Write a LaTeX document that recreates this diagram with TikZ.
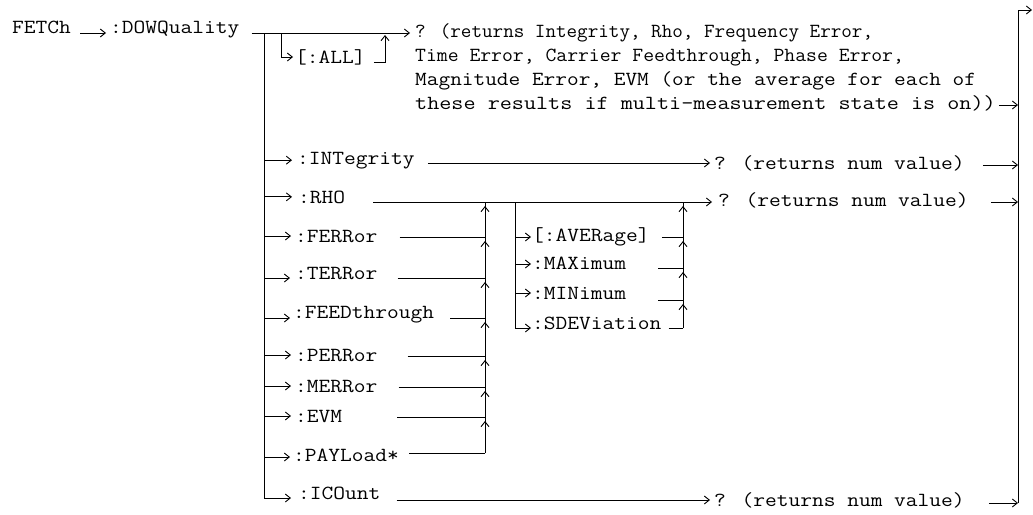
\documentclass[tikz,border=0pt]{standalone}
\usepackage{fontspec}
\newfontfamily\diagfont[FakeStretch=1.14]{Latin Modern Mono}
\usetikzlibrary{arrows.meta,calc}
\begin{document}
\begin{tikzpicture}[x=1pt,y=-1pt,
  lbl/.style={anchor=base west,inner sep=0pt,font=\diagfont\fontsize{20}{24}\selectfont},
  ln/.style={line width=0.9pt},
  arr/.style={ln,-{Straight Barb[length=5pt,width=8pt]}}]
\fill[white] (0,0) rectangle (1033,514);
\useasboundingbox (0,0) rectangle (1033,514);
% labels
\node[lbl] (fetch) at (12,33) {FETCh};
\node[lbl] (dow) at (110,33) {:DOWQuality};
\node[lbl] (all) at (295,63) {[:ALL]};
\node[lbl] (r1) at (415,37) {\scalebox{0.90}[1]{? (returns Integrity, Rho, Frequency Error,}};
\node[lbl] (r2) at (415,61) {\scalebox{0.925}[1]{Time Error, Carrier Feedthrough, Phase Error,}};
\node[lbl] (r3) at (415,85) {\scalebox{0.995}[1]{Magnitude Error, EVM (or the average for each of}};
\node[lbl] (r4) at (415,109) {\scalebox{1.03}[1]{these results if multi-measurement state is on))}};
\node[lbl] (int) at (297,164) {:INTegrity};
\node[lbl] (intr) at (714,169) {? (returns num value)};
\node[lbl] (rho) at (298,203) {:RHO};
\node[lbl] (rhor) at (718,206) {? (returns num value)};
\node[lbl] (ferr) at (295,242) {:FERRor};
\node[lbl] (terr) at (295,279) {:TERRor};
\node[lbl] (feed) at (293,318) {:FEEDthrough};
\node[lbl] (perr) at (295,361) {:PERRor};
\node[lbl] (merr) at (295,392) {:MERRor};
\node[lbl] (evm) at (295,422) {:EVM};
\node[lbl] (pay) at (293,461) {:PAYLoad*};
\node[lbl] (icnt) at (298,499) {:ICOunt};
\node[lbl] (icntr) at (714,506) {? (returns num value)};
\node[lbl] (aver) at (532,241) {[:AVERage]};
\node[lbl] (maxi) at (532,269) {:MAXimum};
\node[lbl] (mini) at (532,299) {:MINimum};
\node[lbl] (sdev) at (532,329) {:SDEViation};
% junction coordinates
\coordinate (vtop) at (264,33);
\coordinate (vbot) at (264,498);
\coordinate (atop) at (281,33);
\coordinate (aout) at (385,33);
\coordinate (c1) at (485,202);
\coordinate (c1b) at (485,453);
\coordinate (s1) at (515,202);
\coordinate (s1b) at (515,328);
\coordinate (c2) at (683,202);
\coordinate (c2b) at (683,328);
\coordinate (rtop) at (1018,10);
\coordinate (rbot) at (1018,503);
\coordinate (rend) at (1032,10);
% top line
\draw[arr] ($(fetch.base east)+(9,0)$) -- ($(dow.base west)+(-4,0)$);
\draw[arr] ($(dow.base east)+(12,0)$) -- ($(r1.base west)+(-5,-4)$);
\draw[ln] (vtop) -- (vbot);
\draw[arr] (atop) |- ($(all.base west)+(-2,-6)$);
\draw[arr] ($(all.base east)+(8,-1)$) -| ($(aout)+(0,2)$);
% right collector
\draw[ln] (rbot) -- (rtop);
\draw[arr] (rtop) -- (rend);
\draw[arr] ($(r4.base east)+(3,-4)$) -- ($(r4.base east -| rtop)+(0,-4)$);
\draw[arr] ($(intr.base east)+(18,-4)$) -- ($(intr.base east -| rtop)+(0,-4)$);
\draw[arr] ($(rhor.base east)+(22,-4)$) -- ($(rhor.base east -| rtop)+(0,-4)$);
\draw[arr] ($(icntr.base east)+(24,-3)$) -- ($(icntr.base east -| rtop)+(0,-3)$);
% branches from main vertical
\draw[arr] (vtop |- int.center) -- ($(int.west)+(-5,0)$);
\draw[arr] (vtop |- rho.center) -- ($(rho.west)+(-6,0)$);
\draw[arr] (vtop |- ferr.center) -- ($(ferr.west)+(-4,0)$);
\draw[arr] (264,278) -- (290,278);
\draw[arr] (264,318) -- (290,318);
\draw[arr] (vtop |- perr.center) -- ($(perr.west)+(-4,0)$);
\draw[arr] (vtop |- merr.center) -- ($(merr.west)+(-4,0)$);
\draw[arr] (vtop |- evm.center) -- ($(evm.west)+(-4,0)$);
\draw[arr] (264,457) -- (290,457);
\draw[arr] (vbot) -- (291,498);
% lines after labels
\draw[arr] ($(int.base east)+(13,-1)$) -- ($(intr.base west)+(-4,-6)$);
\draw[arr] ($(rho.base east)+(28,-1)$) -- ($(rhor.base west)+(-6,-4)$);
\draw[arr] ($(icnt.base east)+(16,1)$) -- ($(icntr.base west)+(-4,-6)$);
\draw[ln] ($(ferr.base east)+(22,-5)$) -- (c1 |- 0,237);
\draw[ln] ($(terr.base east)+(20,-1)$) -- (c1 |- 0,278);
\draw[ln] ($(feed.base east)+(16,0)$) -- (c1 |- 0,318);
\draw[ln] ($(perr.base east)+(30,-5)$) -- (c1 |- 0,356);
\draw[ln] ($(merr.base east)+(21,-5)$) -- (c1 |- 0,387);
\draw[ln] ($(evm.base east)+(55,-5)$) -- (c1 |- 0,417);
\draw[ln] ($(pay.base east)+(10,-8)$) -- (c1b);
% collector 1
\draw[ln] (c1b) -- (c1);
\draw[arr] (485,453) -- (485,421);
\draw[arr] (485,417) -- (485,391);
\draw[arr] (485,387) -- (485,360);
\draw[arr] (485,356) -- (485,322);
\draw[arr] (485,318) -- (485,282);
\draw[arr] (485,278) -- (485,241);
\draw[arr] (485,237) -- (485,206);
% sub branch
\draw[ln] (s1) -- (s1b);
\draw[arr] (s1b) -- ($(sdev.base west)+(-1,-1)$);
\draw[arr] (s1 |- 0,237) -- ($(aver.base west)+(-1,-4)$);
\draw[arr] (s1 |- 0,264) -- ($(maxi.base west)+(-1,-5)$);
\draw[arr] (s1 |- 0,293) -- ($(mini.base west)+(-1,-6)$);
\draw[ln] ($(aver.base east)+(12,-4)$) -- (c2 |- 0,237);
\draw[ln] ($(maxi.base east)+(32,-1)$) -- (c2 |- 0,268);
\draw[ln] ($(mini.base east)+(32,1)$) -- (c2 |- 0,300);
\draw[ln] ($(sdev.base east)+(7,-1)$) -- (c2b);
% collector 2
\draw[ln] (c2b) -- (c2);
\draw[arr] (683,328) -- (683,304);
\draw[arr] (683,300) -- (683,272);
\draw[arr] (683,268) -- (683,241);
\draw[arr] (683,237) -- (683,206);
\end{tikzpicture}
\end{document}
